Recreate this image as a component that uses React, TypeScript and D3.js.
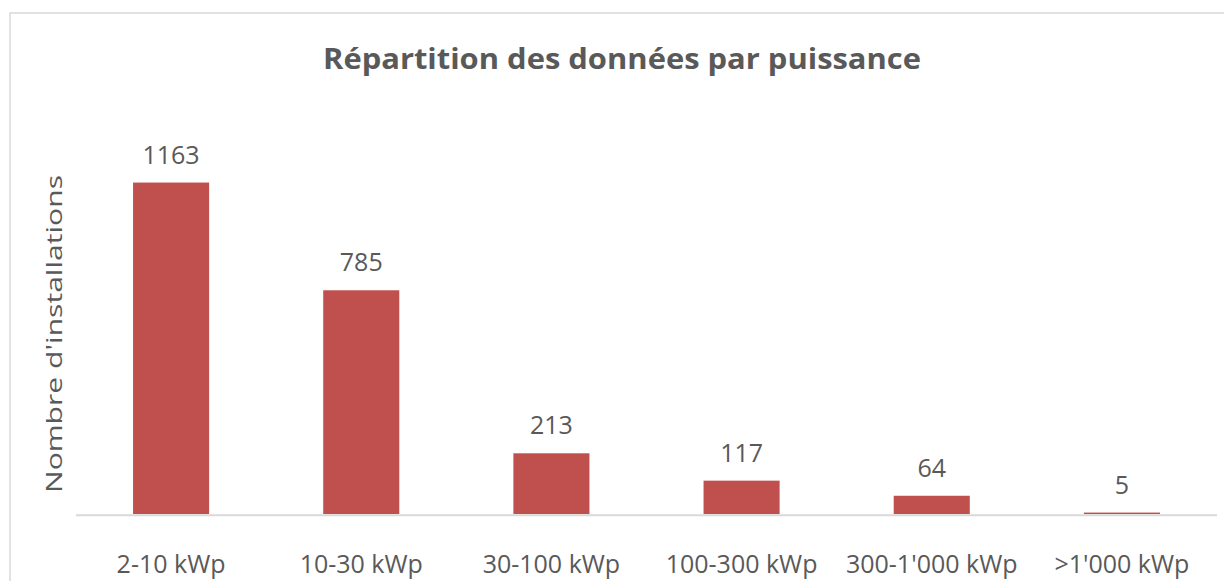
import React from 'react';
import * as d3 from 'd3';

// Chart data
const categories = ['2-10 kWp', '10-30 kWp', '30-100 kWp', '100-300 kWp', "300-1'000 kWp", ">1'000 kWp"];
const installations = [1163, 785, 213, 117, 64, 5];
const yDomainMax = 1400;

const W = 1224;
const H = 581;
const FONT = '"Open Sans", "Noto Sans", sans-serif';
const TEXT = '#595959';

const App = () => {
    const margin = { top: 115, right: 7, bottom: 67, left: 76 };
    const plotBottom = H - margin.bottom;

    const x = d3.scaleBand<string>()
        .domain(categories)
        .range([margin.left, W - margin.right])
        .paddingInner(0.6)
        .paddingOuter(0.3);

    const y = d3.scaleLinear()
        .domain([0, yDomainMax])
        .range([plotBottom, margin.top]);

    const rows = categories.map((c, i) => ({ c, v: installations[i] }));

    return (
        <svg width={W} height={H} style={{ position: 'absolute', left: 0, top: 0, display: 'block', background: '#fff' }}>
            {/* chart frame */}
            <rect x={10} y={13} width={W + 20} height={H + 20} fill="#fff" stroke="#d9d9d9" strokeWidth={1.5} />

            {/* title */}
            <text x={622} y={69} textAnchor="middle" fontFamily={FONT} fontWeight={700} fontSize={28}
                  fill={TEXT} textLength={598} lengthAdjust="spacingAndGlyphs">
                Répartition des données par puissance
            </text>

            {/* y axis title */}
            <text transform={`translate(62, 334) rotate(-90)`} textAnchor="middle" fontFamily={FONT}
                  fontSize={22} fill={TEXT} textLength={318} lengthAdjust="spacingAndGlyphs">
                Nombre d'installations
            </text>

            {/* bars */}
            {rows.map(d => (
                <rect key={d.c} x={x(d.c)} y={y(d.v)} width={x.bandwidth()} height={plotBottom - y(d.v)} fill="#c0504d" />
            ))}

            {/* value labels */}
            {rows.map(d => (
                <text key={'v' + d.c} x={(x(d.c) as number) + x.bandwidth() / 2} y={y(d.v) - 19}
                      textAnchor="middle" fontFamily={FONT} fontSize={25} fill={TEXT}>
                    {d.v}
                </text>
            ))}

            {/* category axis */}
            <line x1={margin.left} x2={W - margin.right} y1={plotBottom + 1.3} y2={plotBottom + 1.3}
                  stroke="#d9d9d9" strokeWidth={2} />
            {rows.map(d => (
                <text key={'c' + d.c} x={(x(d.c) as number) + x.bandwidth() / 2} y={573}
                      textAnchor="middle" fontFamily={FONT} fontSize={25} fill={TEXT}>
                    {d.c}
                </text>
            ))}
        </svg>
    );
};

export default App;
